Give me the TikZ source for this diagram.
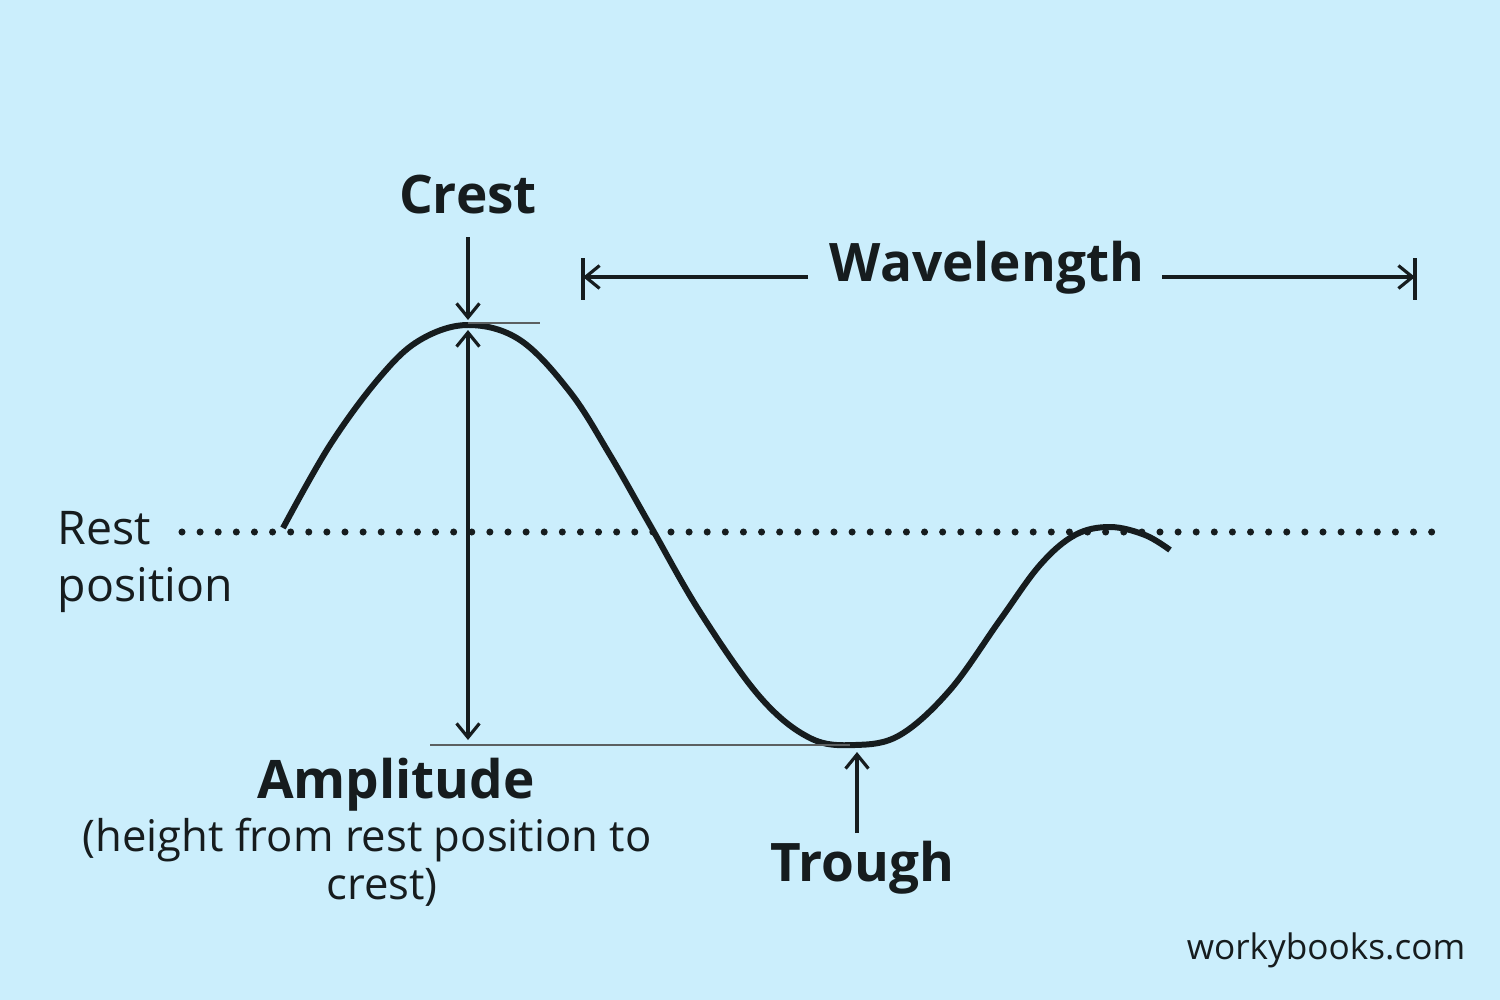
\documentclass[tikz,border=0pt]{standalone}
\usepackage{fontspec}
\setmainfont{Open Sans}
\usetikzlibrary{arrows.meta}
\definecolor{bg}{RGB}{203,238,252}
\definecolor{ink}{RGB}{22,28,30}
\begin{document}
\begin{tikzpicture}[x=0.01cm,y=-0.01cm,
  lbl/.style={text=ink,inner sep=0pt},
  big/.style={lbl,font=\fontsize{15.1}{18}\selectfont\bfseries},
  mid/.style={lbl,font=\fontsize{12.4}{15}\selectfont},
  arr/.style={ink,line width=0.9pt,-{Straight Barb[length=4pt,width=6.5pt]}},
  thin/.style={ink!70,line width=0.3pt}]
\fill[bg] (0,0) rectangle (1500,1000);
\useasboundingbox (0,0) rectangle (1500,1000);
% rest line
\coordinate (r1) at (182,532); \coordinate (r2) at (1438,532);
\draw[ink,line width=2pt,line cap=round,dash pattern=on 0pt off 5.15pt] (r1) -- (r2);
% wave
\draw[ink,line width=1.7pt] plot[smooth,tension=0.6] coordinates {(283,528) (330,445) (380,377) (420,340) (468,325) (520,340) (570,392) (610,455) (650,525) (700,612) (760,697) (810,738) (855,745) (900,735) (950,690) (1000,620) (1040,565) (1075,535) (1110,527) (1145,535) (1170,550)};
% thin level lines
\coordinate (c0) at (468,323); \coordinate (c1) at (540,323);
\draw[thin] (c0) -- (c1);
\coordinate (t0) at (430,745); \coordinate (t1) at (850,745);
\draw[thin] (t0) -- (t1);
% crest
\node[big] (crest) at (468,195) {Crest};
\coordinate (ca) at (468,237); \coordinate (cb) at (468,320);
\draw[arr] (ca) -- (cb);
% amplitude
\coordinate (aa) at (468,330); \coordinate (ab) at (468,740);
\draw[arr,{Straight Barb[length=4pt,width=6.5pt]}-{Straight Barb[length=4pt,width=6.5pt]}] (aa) -- (ab);
\node[big] (amp) at (396,785) {Amplitude};
\node[mid] (ampsub) at (367,840) {(height from rest position to};
\node[mid] (ampsub2) at (382,887) {crest)};
% wavelength
\node[big] (wl) at (987,268) {Wavelength};
\coordinate (w0) at (583,277); \coordinate (w1) at (808,277);
\coordinate (w2) at (1162,277); \coordinate (w3) at (1415,277);
\draw[arr] (w1) -- (w0);
\draw[arr] (w2) -- (w3);
\coordinate (b0t) at (583,258); \coordinate (b0b) at (583,300);
\coordinate (b1t) at (1415,258); \coordinate (b1b) at (1415,300);
\draw[ink,line width=0.9pt] (b0t) -- (b0b) (b1t) -- (b1b);
% trough
\coordinate (ta) at (857,833); \coordinate (tb) at (857,752);
\draw[arr] (ta) -- (tb);
\node[big] (trough) at (862,868) {Trough};
% rest position
\node[mid,anchor=west,align=left,font=\fontsize{13.2}{16}\selectfont] (rest) at (57,562) {Rest\\position};
\node[lbl,font=\fontsize{10}{12}\selectfont] (wb) at (1326,950) {workybooks.com};
\end{tikzpicture}
\end{document}
